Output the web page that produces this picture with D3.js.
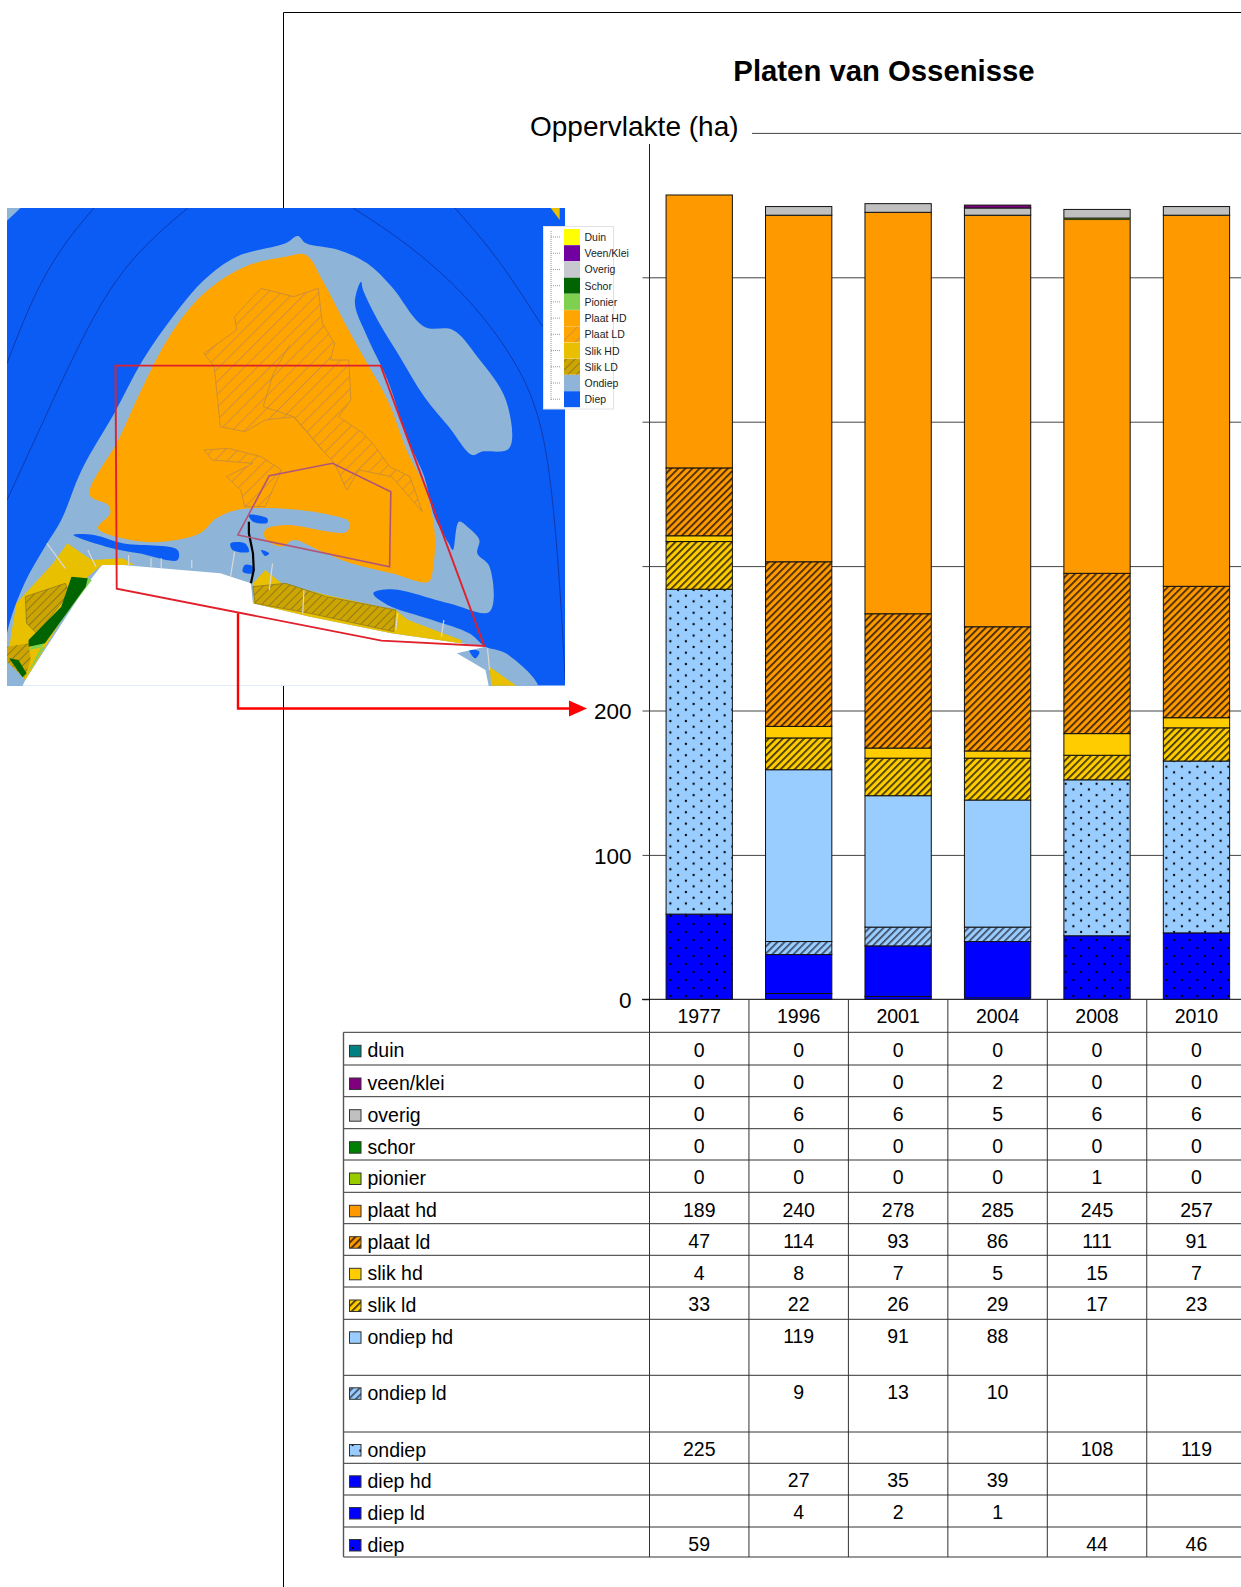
<!DOCTYPE html>
<html><head><meta charset="utf-8">
<script src="https://cdn.jsdelivr.net/npm/d3@7/dist/d3.min.js"></script>
<style>html,body{margin:0;padding:0;background:#fff;overflow:hidden}svg{display:block;font-family:"Liberation Sans",Arial,sans-serif}</style>
</head><body><svg id="c" width="1241" height="1587"></svg>
<script>
// ---- data ----
const years = ["1977","1996","2001","2004","2008","2010"];
const rowNames = ["duin","veen/klei","overig","schor","pionier","plaat hd","plaat ld","slik hd","slik ld","ondiep hd","ondiep ld","ondiep","diep hd","diep ld","diep"];
const duin     = [0,0,0,0,0,0];
const veenKlei = [0,0,0,2,0,0];
const overig   = [0,6,6,5,6,6];
const schor    = [0,0,0,0,0,0];
const pionier  = [0,0,0,0,1,0];
const plaatHd  = [189,240,278,285,245,257];
const plaatLd  = [47,114,93,86,111,91];
const slikHd   = [4,8,7,5,15,7];
const slikLd   = [33,22,26,29,17,23];
const ondiepHd = [null,119,91,88,null,null];
const ondiepLd = [null,9,13,10,null,null];
const ondiep   = [225,null,null,null,108,119];
const diepHd   = [null,27,35,39,null,null];
const diepLd   = [null,4,2,1,null,null];
const diep     = [59,null,null,null,44,46];
const rows = [duin,veenKlei,overig,schor,pionier,plaatHd,plaatLd,slikHd,slikLd,ondiepHd,ondiepLd,ondiep,diepHd,diepLd,diep];
const yTicks = [0,100,200,300,400,500,600];
const yLabelled = [0,100,200];
const mapLegend = ["Duin","Veen/Klei","Overig","Schor","Pionier","Plaat HD","Plaat LD","Slik HD","Slik LD","Ondiep","Diep"];
const fills = ["#008080","#800080","#c0c0c0","#008000","#99cc00","#ff9900","url(#hOrange)","#ffcc00","url(#hYellow)","#99ccff","url(#hBlue)","url(#dLight)","#0000ff","#0000ff","url(#dBlue)"];
const mapLegendFills = ["#ffff00","#7000a0","#c8c8d0","#006400","#80d050","#ffa500","url(#mOrange)","#e8c000","url(#mOlive)","#8eb4d8","#0a5cf5"];

// map shapes (crop coordinates)
const mapOndiep = [[5,1475],[17,1300],[60,1150],[110,1040],[150,960],[200,810],[280,640],[350,480],[430,340],[500,240],[580,170],[700,130],[730,108],[750,130],[830,150],[900,190],[960,260],[1040,380],[1110,390],[1170,470],[1240,600],[1248,745],[1180,755],[1158,765],[1100,680],[1040,590],[980,470],[930,370],[890,270],[885,245],[870,310],[900,410],[950,540],[1000,720],[1040,830],[1065,950],[1100,1030],[1110,1050],[1125,965],[1150,985],[1175,1020],[1170,1060],[1200,1100],[1200,1235],[1100,1210],[960,1168],[915,1180],[950,1215],[1060,1260],[1150,1300],[1190,1340],[1240,1360],[1320,1475]];
const mapCornerTL = [[17,24],[50,24],[17,62]];
const mapCornerTR = [[1350,24],[1372,24],[1372,60]];
const mapOrange = [[220,885],[290,720],[350,560],[420,400],[500,280],[600,200],[700,170],[750,165],[790,240],[850,380],[900,490],[950,600],[1000,760],[1040,860],[1065,990],[1062,1100],[1050,1145],[960,1120],[860,1090],[780,1050],[720,1020],[690,1040],[650,1015],[650,990],[700,975],[850,995],[855,965],[810,945],[680,925],[580,930],[530,955],[490,1000],[400,1025],[320,1020],[240,985],[270,940],[265,915]];
const mapPlaatLd1 = [[500,460],[580,390],[575,350],[640,265],[720,290],[780,265],[790,370],[820,430],[810,480],[855,480],[860,600],[830,650],[890,700],[920,740],[955,800],[1005,830],[1035,935],[960,830],[880,810],[850,870],[820,790],[790,750],[720,650],[650,660],[600,695],[540,680],[525,500]];
const mapPlaatLd2 = [[500,750],[560,745],[640,770],[690,810],[650,920],[600,920],[590,870],[555,830],[620,790],[520,780]];
const mapPlaatSeam = [[710,435],[670,520],[645,620],[720,650],[790,750]];
const mapLand = [[62,1440],[215,1150],[250,1095],[300,1095],[540,1120],[615,1150],[620,1210],[760,1250],[960,1300],[1130,1330],[1190,1340],[1120,1360],[1190,1410],[1200,1470],[50,1470]];
const mapYellowW = [[17,1380],[40,1210],[130,1090],[165,1030],[200,1060],[225,1080],[300,1075],[330,1095],[250,1095],[215,1130],[62,1440]];
const mapYellowS = [[620,1150],[650,1110],[690,1150],[800,1185],[970,1230],[1000,1260],[1130,1320],[1130,1330],[960,1300],[760,1250],[620,1210]];
const mapYellowE = [[1200,1400],[1280,1470],[1205,1470]];
const mapOliveW = [[62,1190],[160,1150],[170,1180],[90,1300],[65,1270]];
const mapOliveS = [[620,1160],[700,1150],[800,1190],[970,1230],[965,1295],[760,1240],[625,1210]];
const mapOliveC = [[17,1340],[70,1330],[75,1380],[60,1435],[17,1385]];
const mapPale = [[215,1135],[70,1350],[110,1340],[60,1435],[100,1345],[225,1140]];
const mapSchor1 = [[175,1130],[215,1135],[210,1160],[110,1330],[70,1340],[70,1320],[150,1220]];
const mapSchor2 = [[22,1375],[45,1380],[65,1420],[55,1432]];
const mapBlobs = [
 [[180,1005],[230,1005],[300,1030],[435,1050],[435,1080],[340,1060],[260,1040]],
 [[610,945],[655,955],[655,968],[620,965]],
 [[565,1030],[600,1030],[610,1055],[570,1050]],
 [[600,1095],[620,1100],[620,1120],[595,1115]],
 [[640,1050],[660,1060],[650,1068]],
 [[1150,1350],[1175,1355],[1165,1375]]];
const mapGroynes = [
 [[115,1030],[160,1105]],[[215,1050],[235,1100]],[[315,1065],[315,1095]],[[370,1075],[370,1100]],
 [[395,1075],[395,1105]],[[470,1080],[470,1105]],[[575,1055],[565,1130]],[[668,1090],[660,1170]],
 [[745,1170],[742,1240]],[[975,1240],[970,1290]],[[1088,1260],[1082,1310]],[[1195,1345],[1200,1410]]];
const mapContours = [
 [[17,490],[80,290],[150,140],[230,24]],
 [[17,900],[100,680],[220,360],[320,170],[460,24]],
 [[865,24],[1000,130],[1150,290],[1290,520],[1350,760],[1380,1300],[1385,1440]],
 [[1115,24],[1220,170],[1330,380]]];
const mapRed = [[283,497],[933,497],[1187,1338],[935,1322],[286,1166]];
const mapPurple = [[660,827],[815,790],[958,875],[955,1100],[583,1005]];
const mapTrack = [[610,965],[610,1000],[620,1060],[622,1110],[615,1150]];

// ---- drawing ----
const svg = d3.select("#c");
const defs = svg.append("defs");
function hatch(id,bg,ink,w,sw){
  const p=defs.append("pattern").attr("id",id).attr("patternUnits","userSpaceOnUse").attr("width",w).attr("height",w).attr("patternTransform","rotate(45)");
  p.append("rect").attr("width",w).attr("height",w).attr("fill",bg);
  p.append("rect").attr("width",sw).attr("height",w).attr("fill",ink);
}
hatch("hOrange","#ff9900","#3a2400",5,1.7);
hatch("hYellow","#ffcc00","#3a3000",5,1.7);
hatch("hBlue","#99ccff","#3c4c64",5,1.7);
hatch("mOrange","#ffa500","#d09040",9,1);
hatch("mOlive","#cda500","#8f7a20",6,1);
function dots(id,bg,w,h){
  const p=defs.append("pattern").attr("id",id).attr("patternUnits","userSpaceOnUse").attr("width",w).attr("height",h);
  p.append("rect").attr("width",w).attr("height",h).attr("fill",bg);
  [[w/4,h/4],[3*w/4,3*h/4]].forEach(d=>p.append("circle").attr("cx",d[0]).attr("cy",d[1]).attr("r",1.15).attr("fill","#000"));
}
dots("dLight","#99ccff",15.5,11.4);
dots("dBlue","#0000ff",15.5,16);
defs.append("clipPath").attr("id","mapClip").append("rect").attr("x",7).attr("y",208).attr("width",558).attr("height",477.7);

// frame
svg.append("path").attr("d","M283.5,1587V12.5H1241").attr("fill","none").attr("stroke","#000");

// titles
svg.append("text").attr("x",884).attr("y",80.5).attr("text-anchor","middle").attr("font-size",29.3).attr("font-weight","bold").text("Platen van Ossenisse");

// scales
const x = d3.scaleBand().domain(years).range([649.5,649.5+99.45*years.length]).paddingInner(0).paddingOuter(0);
const y = d3.scaleLinear().domain([0,600]).range([999.3,132.9]);
const barW = x.bandwidth()*2/3;

// grid
const grid = svg.append("g").attr("transform","translate(649.5,0)")
  .call(d3.axisLeft(y).tickValues(yTicks).tickSize(7).tickFormat(d=>yLabelled.includes(d)?d:""));
grid.select(".domain").remove();
grid.selectAll("text").attr("font-size",22.5).attr("font-family","inherit").attr("fill","#000").attr("x",-18).attr("dy","0.36em");
grid.selectAll("line").attr("stroke","#444");
grid.selectAll(".tick").filter(d=>d===600).select("line").attr("display","none");
svg.append("g").selectAll("line").data(yTicks.filter(d=>d>0)).join("line")
  .attr("x1",d=>d===600?752:649.5).attr("x2",1241).attr("y1",d=>y(d)+.5).attr("y2",d=>y(d)+.5).attr("stroke","#444");
svg.append("line").attr("x1",649.5).attr("x2",649.5).attr("y1",144).attr("y2",1032).attr("stroke","#222");
svg.append("line").attr("x1",642).attr("x2",1241).attr("y1",y(0)).attr("y2",y(0)).attr("stroke","#000");
svg.append("text").attr("x",530).attr("y",135.5).attr("font-size",28).text("Oppervlakte (ha)");

// stacked bars
const table = years.map((yr,i)=>{const o={year:yr};rowNames.forEach((n,k)=>o[n]=rows[k][i]||0);return o;});
const stackOrder = rowNames.slice().reverse();
const layers = d3.stack().keys(stackOrder)(table);
const fillOf = d3.scaleOrdinal().domain(rowNames).range(fills);
svg.append("g").selectAll("g").data(layers).join("g").attr("fill",d=>fillOf(d.key))
  .selectAll("rect").data(d=>d.filter(s=>s[1]>s[0])).join("rect")
  .attr("x",d=>x(d.data.year)+(x.bandwidth()-barW)/2).attr("width",barW)
  .attr("y",d=>y(d[1])).attr("height",d=>y(d[0])-y(d[1]))
  .attr("stroke","#111").attr("stroke-width",d=>y(d[0])-y(d[1])<2?0.5:1);

// table
const rowEdges = [1032.3,1065,1096.7,1128.7,1160,1192.3,1223.7,1255.3,1287,1319.3,1375.3,1432,1463.3,1495,1527,1557];
const t = svg.append("g");
t.selectAll("line.h").data(rowEdges).join("line").attr("class","h")
  .attr("x1",343.5).attr("x2",1241).attr("y1",d=>d).attr("y2",d=>d).attr("stroke","#333");
t.append("line").attr("x1",343.5).attr("x2",343.5).attr("y1",1032.3).attr("y2",1557).attr("stroke","#555").attr("stroke-width",1.4);
t.selectAll("line.v").data(years).join("line").attr("class","v")
  .attr("x1",d=>x(d)+x.bandwidth()).attr("x2",d=>x(d)+x.bandwidth()).attr("y1",999.3).attr("y2",1557).attr("stroke","#333");
t.append("line").attr("x1",649.5).attr("x2",649.5).attr("y1",1032).attr("y2",1557).attr("stroke","#333");
t.selectAll("text.yr").data(years).join("text").attr("class","yr")
  .attr("x",d=>x(d)+x.bandwidth()/2).attr("y",1023).attr("text-anchor","middle").attr("font-size",19.5).text(d=>d);
rowNames.forEach((n,k)=>{
  const top=rowEdges[k];
  t.append("rect").attr("x",349.5).attr("y",top+(k<9?13:12.5)).attr("width",11.5).attr("height",11.5).attr("fill",fills[k]).attr("stroke","#333");
  t.append("text").attr("x",367.5).attr("y",top+(k<9?25:24.5)).attr("font-size",19.5).text(n);
  t.selectAll(null).data(rows[k].map((v,i)=>({v,yr:years[i]})).filter(d=>d.v!==null)).join("text")
    .attr("x",d=>x(d.yr)+x.bandwidth()/2).attr("y",top+(k<9?24.3:23.5)).attr("text-anchor","middle").attr("font-size",19.5).text(d=>d.v);
});

// map inset
const mx = d3.scaleLinear().domain([17,1385]).range([7,565]);
const my = d3.scaleLinear().domain([0,1560]).range([200,720]);
const line = d3.line().x(d=>mx(d[0])).y(d=>my(d[1]));
const smooth = d3.line().x(d=>mx(d[0])).y(d=>my(d[1])).curve(d3.curveCatmullRomClosed.alpha(0.5));
const closed = pts=>line(pts)+"Z";
const m = svg.append("g").attr("clip-path","url(#mapClip)");
m.append("rect").attr("x",7).attr("y",208).attr("width",558).attr("height",477.7).attr("fill","#0a5cf5");
const shape=(pts,fill,stroke)=>m.append("path").attr("d",closed(pts)).attr("fill",fill).attr("stroke",stroke||"none").attr("stroke-width",stroke?.8:0);
const blob=(pts,fill)=>m.append("path").attr("d",smooth(pts)).attr("fill",fill);
mapContours.forEach(c=>m.append("path").attr("d",d3.line().x(d=>mx(d[0])).y(d=>my(d[1])).curve(d3.curveBasis)(c)).attr("fill","none").attr("stroke","#12309a").attr("stroke-width",.8));
blob(mapOndiep,"#8eb4d8");
shape(mapCornerTL,"#8eb4d8");
shape(mapCornerTR,"#e8c000");
blob(mapOrange,"#ffa500");
shape(mapPlaatLd1,"url(#mOrange)","#c08a40");
shape(mapPlaatLd2,"url(#mOrange)","#c08a40");
m.append("path").attr("d",line(mapPlaatSeam)).attr("fill","none").attr("stroke","#c08a40").attr("stroke-width",.8);
mapBlobs.forEach(b=>blob(b,"#0a5cf5"));
shape(mapLand,"#fff");
shape(mapYellowW,"#e8c000");
shape(mapYellowS,"#e8c000");
shape(mapYellowE,"#e8c000");
shape(mapOliveW,"url(#mOlive)","#8f7a20");
shape(mapOliveS,"url(#mOlive)","#8f7a20");
shape(mapOliveC,"url(#mOlive)");
shape(mapPale,"#80d050");
shape(mapSchor1,"#006400");
shape(mapSchor2,"#006400");
mapGroynes.forEach(g=>m.append("path").attr("d",line(g)).attr("stroke","#d8d8d8").attr("stroke-width",1.2).attr("fill","none"));
m.append("path").attr("d",line(mapTrack)).attr("fill","none").attr("stroke","#000").attr("stroke-width",2.2);
m.append("path").attr("d",closed(mapPurple)).attr("fill","none").attr("stroke","#b0557a").attr("stroke-width",1.6);
m.append("path").attr("d",closed(mapRed)).attr("fill","none").attr("stroke","#e0202a").attr("stroke-width",1.9);

// map legend
const lg = svg.append("g");
lg.append("rect").attr("x",543.5).attr("y",226.5).attr("width",70).attr("height",182.5).attr("fill","#fff").attr("stroke","#dfe3e8");
lg.append("line").attr("x1",551).attr("x2",551).attr("y1",231).attr("y2",400).attr("stroke","#999").attr("stroke-dasharray","1 1");
mapLegend.forEach((n,i)=>{
  const c=237+i*16.22;
  lg.append("line").attr("x1",551).attr("x2",560).attr("y1",c).attr("y2",c).attr("stroke","#999").attr("stroke-dasharray","1 1");
  lg.append("rect").attr("x",564).attr("y",c-8).attr("width",16).attr("height",16).attr("fill",mapLegendFills[i]);
  lg.append("text").attr("x",584.5).attr("y",c+4).attr("font-size",10.5).attr("fill","#222").text(n);
});

// red arrow
svg.append("path").attr("d","M238,"+my(1240)+"V708.5H570").attr("fill","none").attr("stroke","#f00").attr("stroke-width",2.4);
svg.append("path").attr("d","M569,700.5L587,708.5L569,716.5Z").attr("fill","#f00");
</script></body></html>
